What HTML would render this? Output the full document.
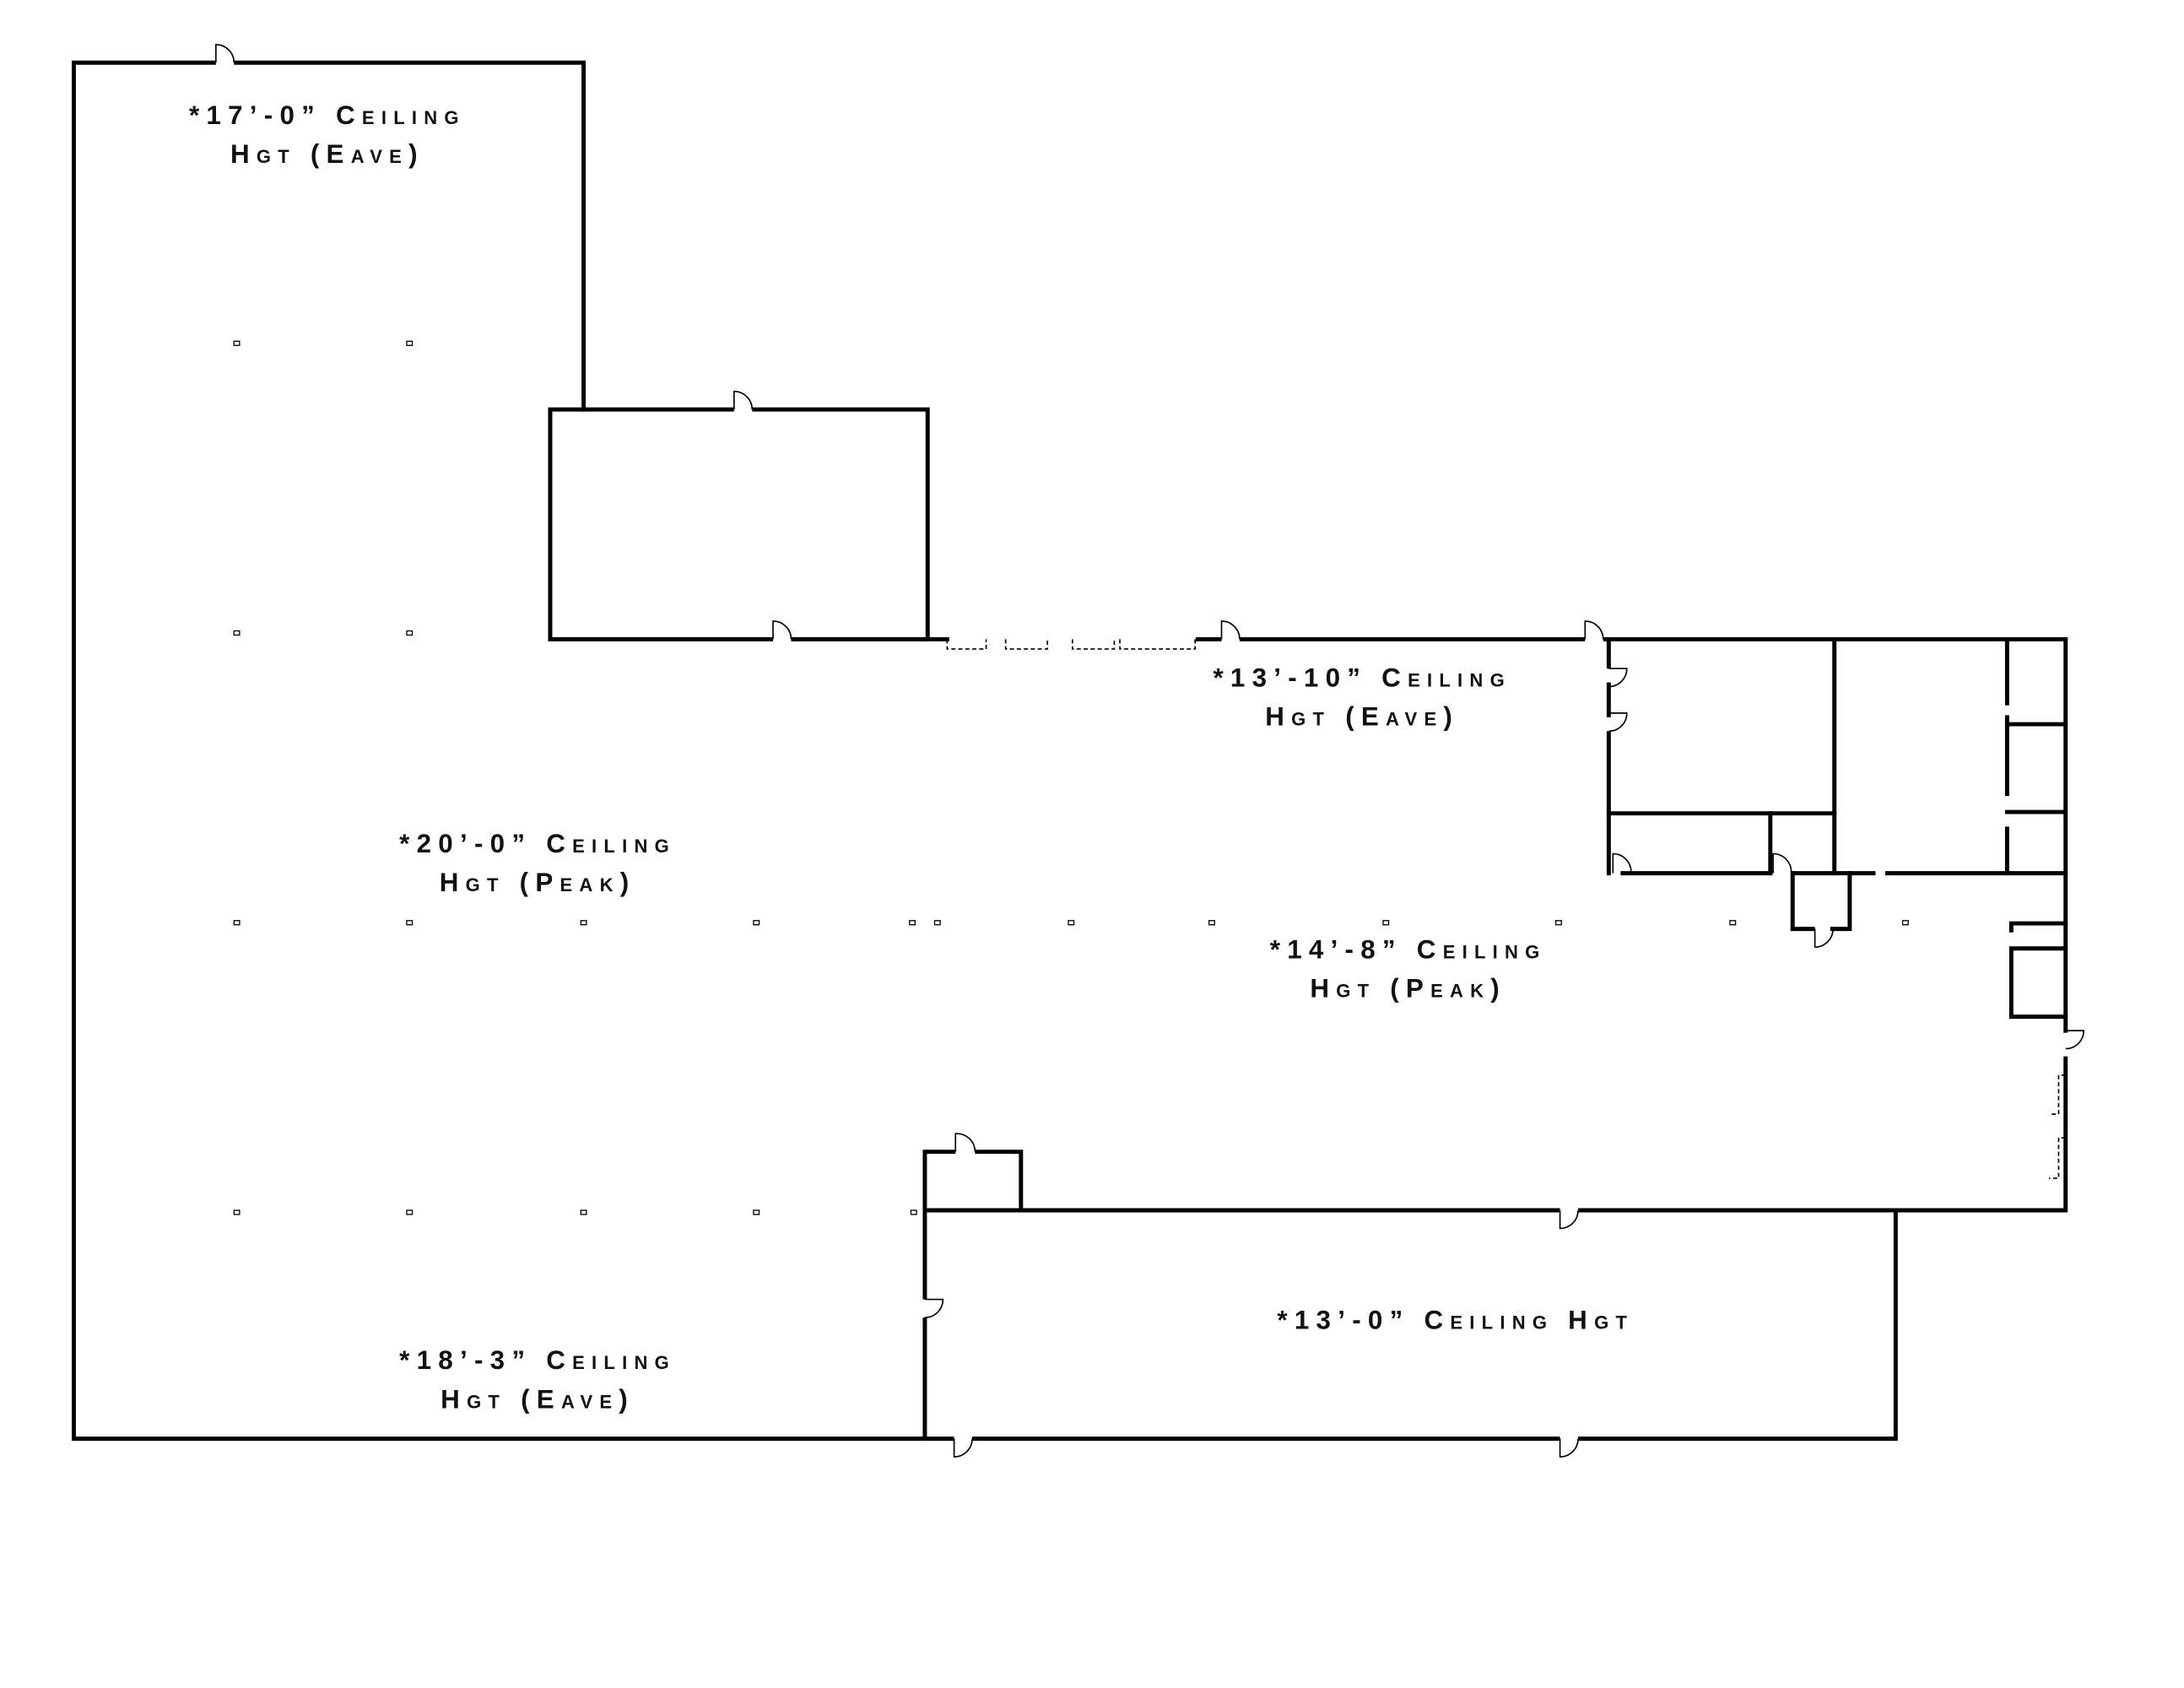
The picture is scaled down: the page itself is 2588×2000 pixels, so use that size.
<!DOCTYPE html>
<html><head><meta charset="utf-8"><style>
html,body{margin:0;padding:0;background:#fff;}
svg{display:block;}
text{font-family:"Liberation Sans",sans-serif;font-weight:bold;font-variant:small-caps;letter-spacing:5px;fill:#111;font-size:19px;text-anchor:middle;}
</style></head><body>
<svg width="2588" height="2000" viewBox="0 0 1568 1212" preserveAspectRatio="none" xmlns="http://www.w3.org/2000/svg">
<g fill="none" stroke="#000" stroke-width="3" stroke-linecap="square">
<polyline points="419,294 419,45 53,45 53,1033 1361,1033 1361,869"/>
<rect x="395" y="294" width="271" height="165"/>
<line x1="666" y1="459" x2="680" y2="459"/>
<line x1="860" y1="459" x2="1483" y2="459"/>
<polyline points="1483,459 1483,740"/>
<polyline points="1483,760 1483,869 664,869 664,1033"/>
<polyline points="664,869 664,827 733,827 733,869"/>
<line x1="1155" y1="459" x2="1155" y2="627"/>
<line x1="1155" y1="584" x2="1317" y2="584"/>
<line x1="1317" y1="459" x2="1317" y2="627"/>
<line x1="1271" y1="584" x2="1271" y2="627"/>
<line x1="1165" y1="627" x2="1271" y2="627"/>
<line x1="1288" y1="627" x2="1345" y2="627"/>
<line x1="1355" y1="627" x2="1483" y2="627"/>
<line x1="1441" y1="459" x2="1441" y2="505"/>
<line x1="1441" y1="515" x2="1441" y2="570"/>
<line x1="1441" y1="595" x2="1441" y2="627"/>
<line x1="1441" y1="520" x2="1483" y2="520"/>
<line x1="1441" y1="583" x2="1483" y2="583"/>
<polyline points="1287,627 1287,667 1328,667 1328,627"/>
<polyline points="1444,668 1444,663 1483,663"/>
<polyline points="1483,681 1444,681 1444,730 1483,730"/>
</g>
<g fill="#fff" stroke="#000" stroke-width="3">
<line x1="155" y1="45" x2="168" y2="45" stroke="#fff" stroke-width="5"/>
<line x1="527" y1="294" x2="540" y2="294" stroke="#fff" stroke-width="5"/>
<line x1="555" y1="459" x2="568" y2="459" stroke="#fff" stroke-width="5"/>
<line x1="877" y1="459" x2="890" y2="459" stroke="#fff" stroke-width="5"/>
<line x1="1138" y1="459" x2="1151" y2="459" stroke="#fff" stroke-width="5"/>
<line x1="1120" y1="869" x2="1133" y2="869" stroke="#fff" stroke-width="5"/>
<line x1="685" y1="1033" x2="698" y2="1033" stroke="#fff" stroke-width="5"/>
<line x1="1120" y1="1033" x2="1133" y2="1033" stroke="#fff" stroke-width="5"/>
<line x1="664" y1="933" x2="664" y2="946" stroke="#fff" stroke-width="5"/>
<line x1="686" y1="827" x2="700" y2="827" stroke="#fff" stroke-width="5"/>
<line x1="1155" y1="480" x2="1155" y2="490" stroke="#fff" stroke-width="5"/>
<line x1="1155" y1="515" x2="1155" y2="525" stroke="#fff" stroke-width="5"/>
<line x1="1303" y1="667" x2="1314" y2="667" stroke="#fff" stroke-width="5"/>
</g>
<g fill="none" stroke="#000" stroke-width="1">
<path d="M155,45 V32 A13,13 0 0 1 168,45"/>
<path d="M527,294 V281 A13,13 0 0 1 540,294"/>
<path d="M555,459 V446 A13,13 0 0 1 568,459"/>
<path d="M877,459 V446 A13,13 0 0 1 890,459"/>
<path d="M1138,459 V446 A13,13 0 0 1 1151,459"/>
<path d="M1120,869 V882 A13,13 0 0 0 1133,869"/>
<path d="M685,1033 V1046 A13,13 0 0 0 698,1033"/>
<path d="M1120,1033 V1046 A13,13 0 0 0 1133,1033"/>
<path d="M664,933 H677 A13,13 0 0 1 664,946"/>
<path d="M686,827 V814 A13,13 0 0 1 700,827"/>
<path d="M1155,480 H1168 A13,13 0 0 1 1155,493"/>
<path d="M1155,512 H1168 A13,13 0 0 1 1155,525"/>
<path d="M1158,627 V613 A13,13 0 0 1 1171,627"/>
<path d="M1273,627 V613 A13,13 0 0 1 1286,627"/>
<path d="M1303,667 V680 A13,13 0 0 0 1316,667"/>
<path d="M1483,740 H1496 A13,13 0 0 1 1483,753"/>
<path d="M680,459 V466 H708 V459 M722,459 V466 H752 V459 M770,459 V466 H800 V459 M804,459 V466 H858 V459" stroke-dasharray="3,2"/>
<path d="M1483,772 H1478 V800 H1471 M1483,817 H1478 V846 H1471" stroke-dasharray="3,2"/>
</g>
<g fill="#fff" stroke="#000" stroke-width="0.8">
<rect x="168" y="245" width="4" height="3"/><rect x="292" y="245" width="4" height="3"/>
<rect x="168" y="453" width="4" height="3"/><rect x="292" y="453" width="4" height="3"/>
<rect x="168" y="661" width="4" height="3"/><rect x="292" y="661" width="4" height="3"/><rect x="417" y="661" width="4" height="3"/><rect x="541" y="661" width="4" height="3"/><rect x="653" y="661" width="4" height="3"/><rect x="671" y="661" width="4" height="3"/><rect x="767" y="661" width="4" height="3"/><rect x="868" y="661" width="4" height="3"/><rect x="993" y="661" width="4" height="3"/><rect x="1117" y="661" width="4" height="3"/><rect x="1242" y="661" width="4" height="3"/><rect x="1366" y="661" width="4" height="3"/>
<rect x="168" y="869" width="4" height="3"/><rect x="292" y="869" width="4" height="3"/><rect x="417" y="869" width="4" height="3"/><rect x="541" y="869" width="4" height="3"/><rect x="654" y="869" width="4" height="3"/>
</g>
<text x="235" y="89">*17’-0” Ceiling</text><text x="235" y="117">Hgt (Eave)</text>
<text x="978" y="493">*13’-10” Ceiling</text><text x="978" y="521">Hgt (Eave)</text>
<text x="386" y="612">*20’-0” Ceiling</text><text x="386" y="640">Hgt (Peak)</text>
<text x="1011" y="688">*14’-8” Ceiling</text><text x="1011" y="716">Hgt (Peak)</text>
<text x="1045" y="954">*13’-0” Ceiling Hgt</text>
<text x="386" y="983">*18’-3” Ceiling</text><text x="386" y="1011">Hgt (Eave)</text>
</svg>
</body></html>
